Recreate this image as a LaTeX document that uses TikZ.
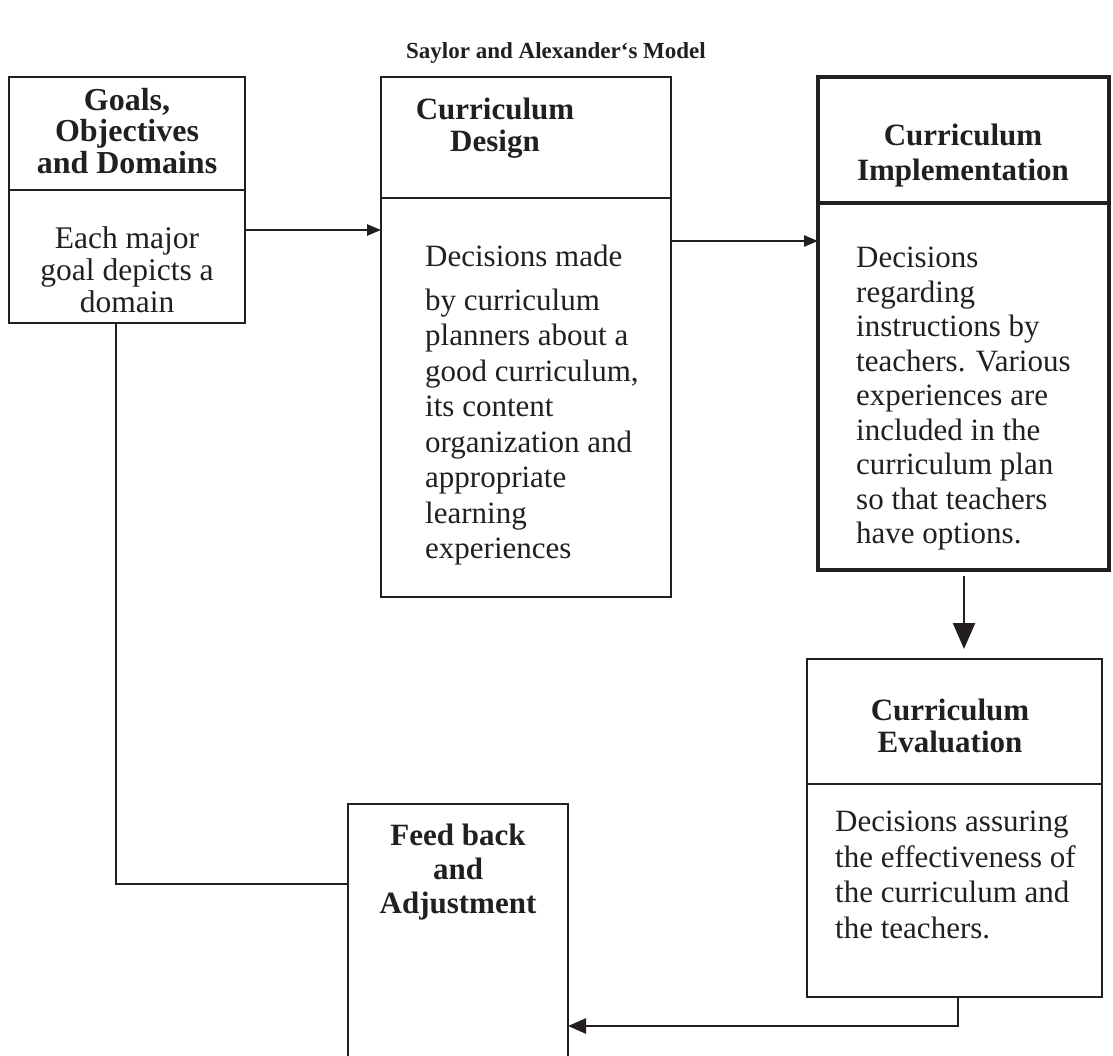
\documentclass[tikz,border=0pt]{standalone}
\usepackage{fontspec}
\setmainfont{Liberation Serif}
\usetikzlibrary{arrows.meta}
\definecolor{ink}{RGB}{35,31,32}
\begin{document}
\begin{tikzpicture}[x=1pt,y=-1pt,
  frame/.style={draw=ink, line width=2.5pt, inner sep=0pt, outer sep=0pt, anchor=north west},
  thickframe/.style={frame, line width=3.2pt},
  head/.style={text=ink, font=\fontsize{31}{33}\selectfont\bfseries, align=center, inner sep=0pt},
  bodyc/.style={text=ink, font=\fontsize{31.5}{32}\selectfont, align=center, inner sep=0pt, anchor=north},
  bodyl/.style={text=ink, font=\fontsize{31}{35.5}\selectfont, align=left, inner sep=0pt, anchor=north west},
  link/.style={draw=ink, line width=2.5pt},
  tipS/.style={-{Triangle[length=14pt,width=11pt]}},
  tipM/.style={-{Triangle[length=18pt,width=15pt]}},
  tipL/.style={-{Triangle[length=26pt,width=22pt]}}
]
\useasboundingbox (0,0) rectangle (1113,1056);

% title
\node[text=ink, font=\fontsize{23}{27}\selectfont\bfseries] (title) at (556,53) {Saylor and Alexander‘s Model};

% Goals, objectives and domains
\node[frame, minimum width=236pt, minimum height=113pt] (goalsHead) at (9,77) {};
\node[frame, minimum width=236pt, minimum height=133pt] (goalsBody) at (9,190) {};
\node[head, font=\fontsize{32}{31.5}\selectfont\bfseries] (goalsTitle) at (127,131) {Goals,\\Objectives\\and Domains};
\node[bodyc] (goalsText) at (127,226) {Each major\\goal depicts a\\domain};

% Curriculum design
\node[frame, minimum width=290pt, minimum height=121pt] (designHead) at (381,77) {};
\node[frame, minimum width=290pt, minimum height=399pt] (designBody) at (381,198) {};
\node[head, font=\fontsize{31}{31.5}\selectfont\bfseries] (designTitle) at (495,128) {Curriculum\\Design};
\node[bodyl] (designText) at (425,245) {Decisions made\\[8pt]by curriculum\\planners about a\\good curriculum,\\its content\\organization and\\appropriate\\learning\\experiences};

% Curriculum implementation
\node[thickframe, minimum width=291pt, minimum height=126pt] (implHead) at (818,77) {};
\node[thickframe, minimum width=291pt, minimum height=367pt] (implBody) at (818,203) {};
\node[head, font=\fontsize{31}{35}\selectfont\bfseries] (implTitle) at (963,156) {Curriculum\\Implementation};
\node[bodyl, font=\fontsize{31}{34.5}\selectfont] (implText) at (856,247) {Decisions\\regarding\\instructions by\\teachers. Various\\experiences are\\included in the\\curriculum plan\\so that teachers\\have options.};

% Curriculum evaluation
\node[frame, minimum width=295pt, minimum height=125pt] (evalHead) at (807,659) {};
\node[frame, minimum width=295pt, minimum height=213pt] (evalBody) at (807,784) {};
\node[head, font=\fontsize{31}{32}\selectfont\bfseries] (evalTitle) at (950,726) {Curriculum\\Evaluation};
\node[bodyl] (evalText) at (835,811) {Decisions assuring\\the effectiveness of\\the curriculum and\\the teachers.};

% Feed back and adjustment (runs past the lower edge)
\node[frame, minimum width=220pt, minimum height=260pt] (fbBox) at (348,804) {};
\node[head, anchor=north, font=\fontsize{31}{34}\selectfont\bfseries] (fbTitle) at (458,824) {Feed back\\and\\Adjustment};

% helper coordinates for connector rows and columns
\coordinate (rowA) at (0,230);
\coordinate (rowB) at (0,241);
\coordinate (rowC) at (0,884);
\coordinate (rowD) at (0,1026);
\coordinate (colA) at (116,0);
\coordinate (colB) at (964,0);
\coordinate (colC) at (958,0);

% connectors
\draw[link, tipS] (goalsBody.east |- rowA) -- (designBody.west |- rowA);
\draw[link, tipS] (designBody.east |- rowB) -- (implBody.west |- rowB);
\draw[link, tipL, shorten <=6pt, shorten >=10pt] (implBody.south -| colB) -- (evalHead.north -| colB);
\draw[link, tipM] (evalBody.south -| colC) |- (fbBox.east |- rowD);
\draw[link] (goalsBody.south -| colA) |- (fbBox.west |- rowC);
\end{tikzpicture}
\end{document}
